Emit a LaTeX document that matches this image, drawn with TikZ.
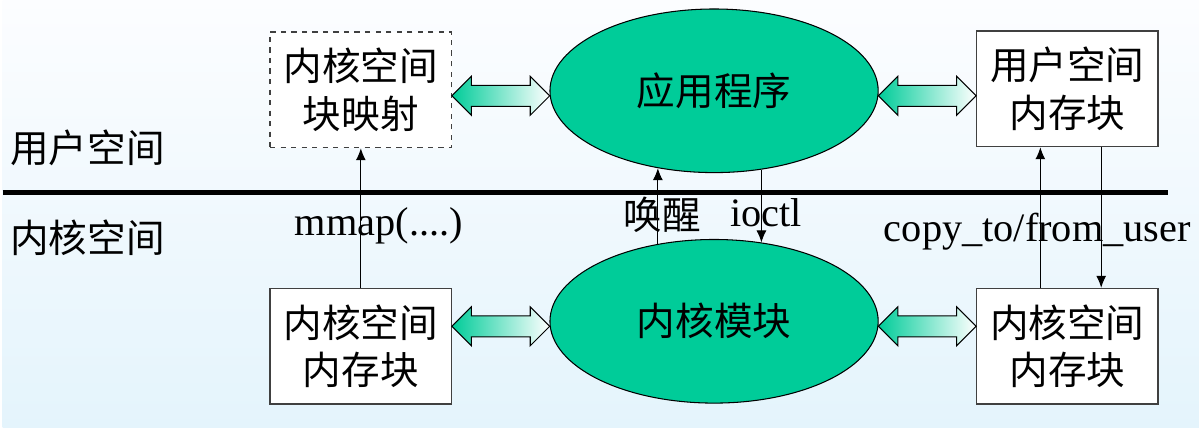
\documentclass[tikz,border=0pt]{standalone}
\usepackage{fontspec}
\setmainfont{Liberation Serif}
\newfontfamily\cjk{Noto Sans CJK SC}
\usetikzlibrary{shapes.geometric,shapes.arrows,arrows.meta,calc}
\definecolor{blobgreen}{RGB}{0,204,153}
\definecolor{bgtop}{RGB}{252,253,255}
\definecolor{bgbot}{RGB}{228,244,252}

\begin{document}
\begin{tikzpicture}[x=0.02cm,y=-0.02cm,
  box/.style={draw=black!75,line width=0.7pt,fill=white,minimum width=3.64cm,minimum height=2.32cm,align=center,font=\cjk\fontsize{22}{27}\selectfont},
  blob/.style={ellipse,draw,line width=0.6pt,fill=blobgreen,minimum width=6.58cm,minimum height=3.28cm,inner sep=0pt,font=\cjk\fontsize{22}{27}\selectfont},
  dbl/.style={double arrow,draw,line width=0.6pt,left color=blobgreen,right color=white,minimum height=1.96cm,minimum width=0.76cm,inner xsep=0pt,inner ysep=0.2cm,double arrow head extend=0.18cm,yshift=-0.1cm},
  call/.style={-{Latex[length=2.4mm,width=2mm]},line width=0.6pt},
  lbl/.style={font=\fontsize{23}{27}\selectfont},
  side/.style={font=\cjk\fontsize{22}{27}\selectfont}]

\shade[top color=bgtop,bottom color=bgbot] (0,0) rectangle (1199,428);
\draw[line width=3pt] (0,193) -- (1168,193);

\node at (85,148) (us) [side] {用户空间};
\node at (85,238) (ks) [side] {内核空间};

\node at (359,90) (tl) [box,dashed] {内核空间\\块映射};
\node at (713,91) (app) [blob] {应用程序};
\node at (1067,89) (tr) [box] {用户空间\\内存块};
\node at (359,347) (bl) [box] {内核空间\\内存块};
\node at (713,322) (km) [blob] {内核模块};
\node at (1067,347) (br) [box] {内核空间\\内存块};

\node[dbl] (tla) at ($(app.west)!.5!(app.west -| tl.east)$) {};
\node[dbl] (tra) at ($(app.east)!.5!(app.east -| tr.west)$) {};
\node[dbl] (bla) at ($(km.west)!.5!(km.west -| bl.east)$) {};
\node[dbl] (bra) at ($(km.east)!.5!(km.east -| br.west)$) {};

\draw[call] (bl.north) -- (tl.south);
\draw[call] (km.126) -- (app.234);
\draw[call] (app.-59) -- (km.59);
\draw[call] ([xshift=-0.54cm]br.north) -- ([xshift=-0.54cm]tr.south);
\draw[call] ([xshift=0.68cm]tr.south) -- ([xshift=0.68cm]br.north);

\node at (377,226) (mm) [lbl] {mmap(....)};
\node at (661,215) (wk) [side] {唤醒};
\node at (765,213) (io) [lbl] {ioctl};
\node at (1037,232) (cp) [lbl] {copy\_to/from\_user};
\end{tikzpicture}
\end{document}
